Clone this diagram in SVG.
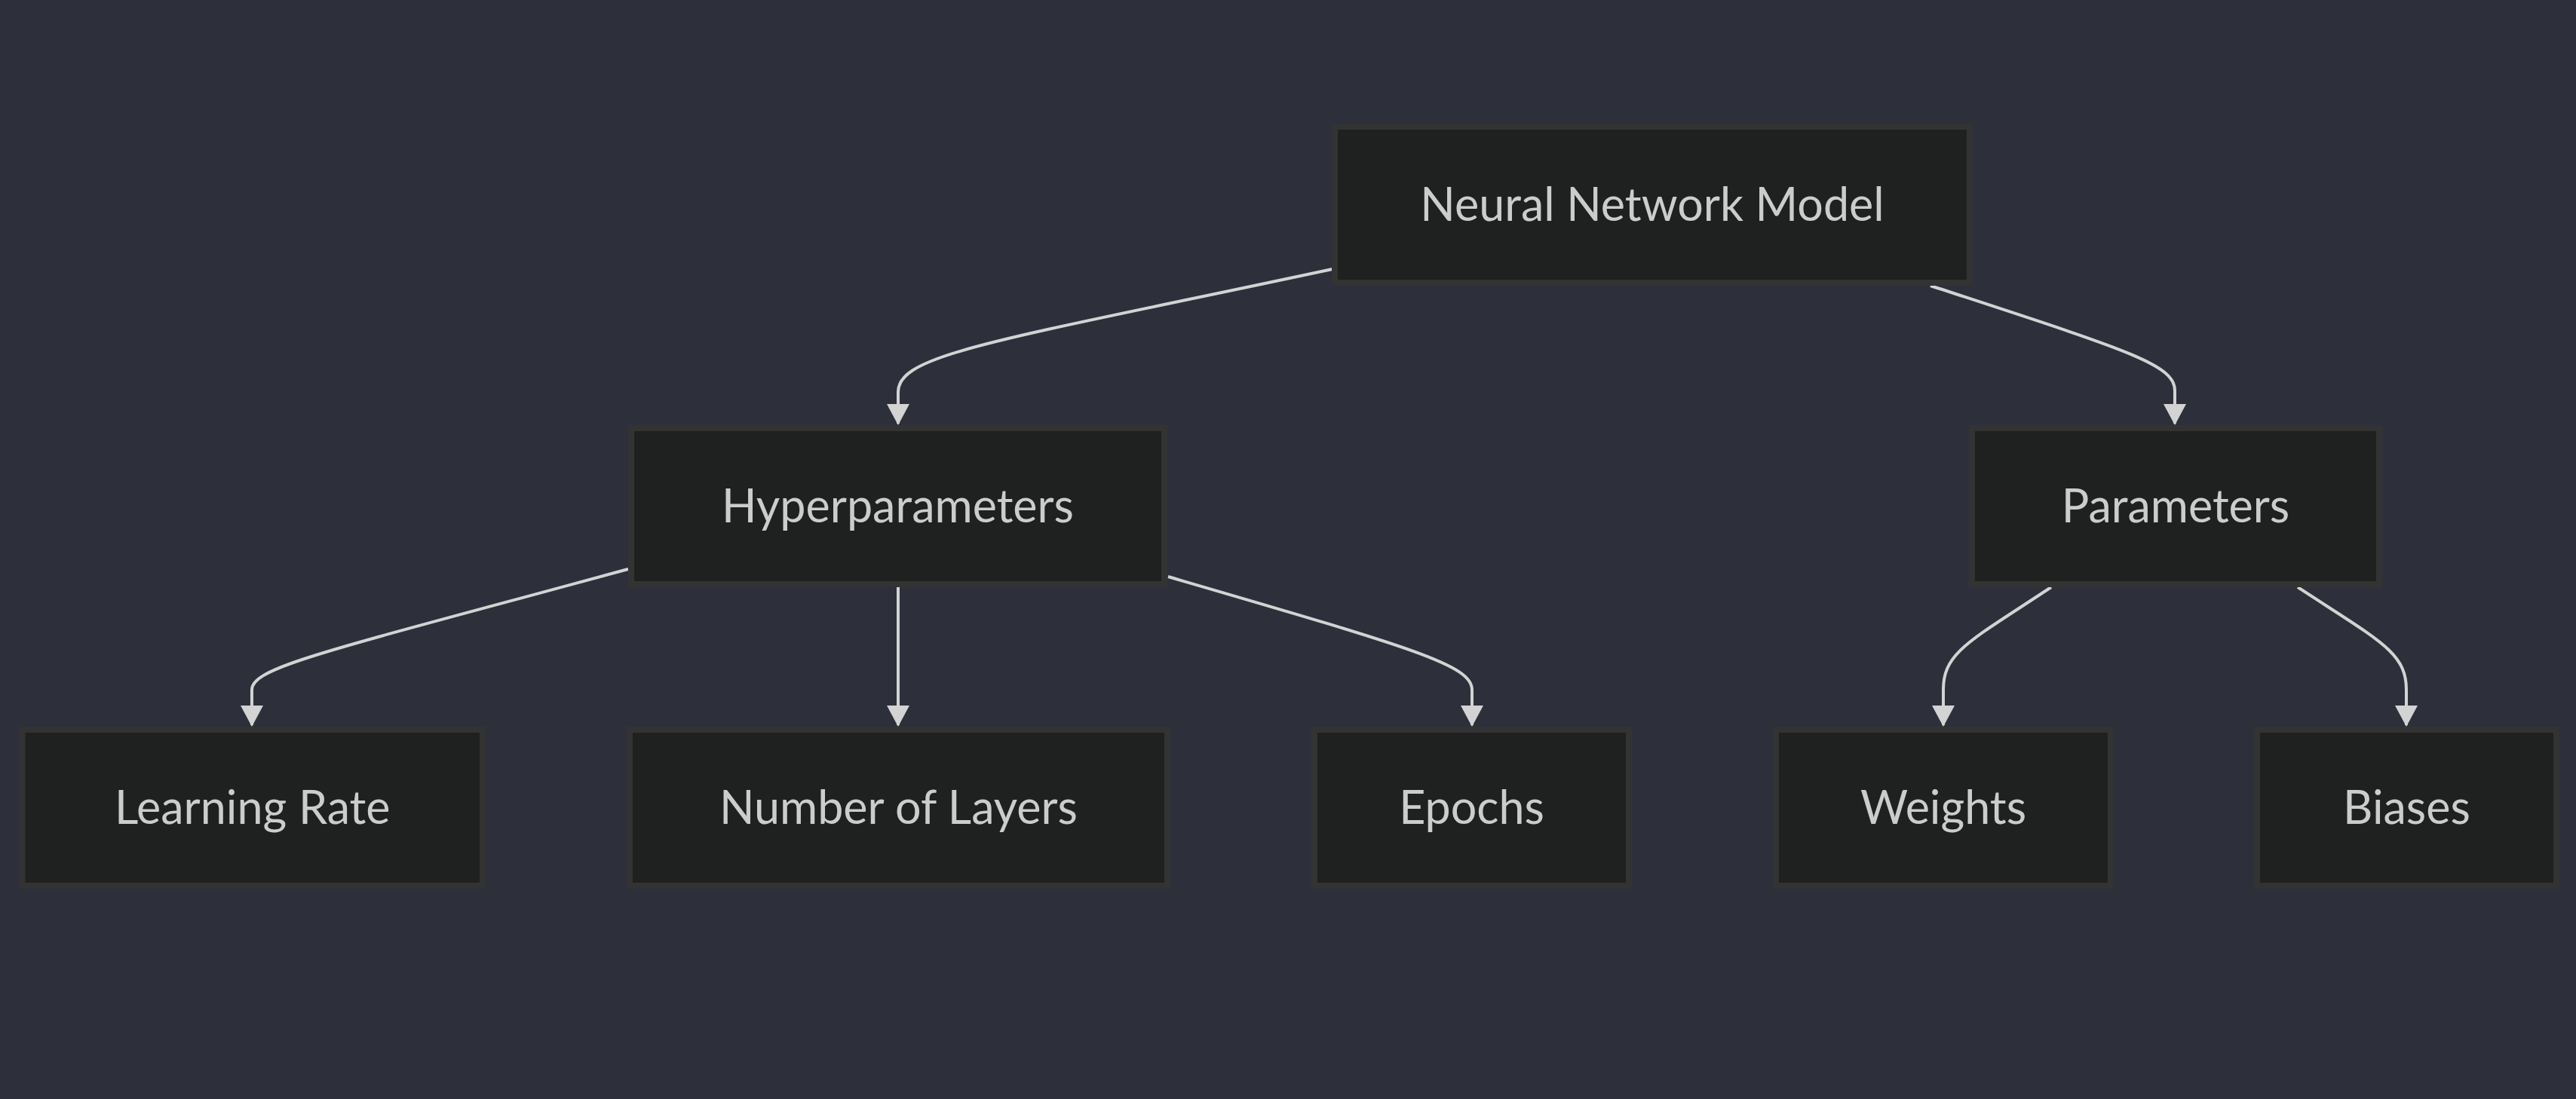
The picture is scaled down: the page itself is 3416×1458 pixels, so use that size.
<svg xmlns="http://www.w3.org/2000/svg" width="3416" height="1458" viewBox="0 0 3416 1458">
<defs>
<style>
.node rect{fill:#1f2020;stroke:#333333;stroke-width:8}
.node text{font-family:"Lato","Liberation Sans",sans-serif;font-size:61px;fill:#cccccc;text-anchor:middle}
.edge{fill:none;stroke:#d3d3d3;stroke-width:4;marker-end:url(#arrow)}
</style>
<marker id="arrow" markerUnits="userSpaceOnUse" viewBox="0 0 28 30" refX="26" refY="15" markerWidth="28" markerHeight="30" orient="auto">
<path d="M0,0 L28,15 L0,30 Z" fill="#d3d3d3"/>
</marker>
</defs>
<rect x="0" y="0" width="3416" height="1458" fill="#2d303b"/>
<g id="connectors">
<path class="edge" d="M1767,357 C1317,453 1191,470 1191,520 L1191,562"/>
<path class="edge" d="M2560,379 C2819,464 2884,483 2884,518 L2884,562"/>
<path class="edge" d="M833,755 C433,864 334,885 334,915 L334,962"/>
<path class="edge" d="M1191,779 L1191,962"/>
<path class="edge" d="M1549,765 C1871,859 1952,882 1952,915 L1952,962"/>
<path class="edge" d="M2720,779 C2613,850 2577,865 2577,915 L2577,962"/>
<path class="edge" d="M3047,779 C3155,850 3191,865 3191,915 L3191,962"/>
</g>
<g id="node-nnm" class="node"><rect x="1770" y="168" width="842" height="207"/><text x="2191" y="293">Neural Network Model</text></g>
<g id="node-hyper" class="node"><rect x="837" y="568" width="707" height="207"/><text x="1190.5" y="693">Hyperparameters</text></g>
<g id="node-params" class="node"><rect x="2615" y="568" width="540" height="207"/><text x="2885" y="693">Parameters</text></g>
<g id="node-lr" class="node"><rect x="29.5" y="968" width="610.5" height="207"/><text x="334.75" y="1093">Learning Rate</text></g>
<g id="node-layers" class="node"><rect x="835" y="968" width="713" height="207"/><text x="1191.5" y="1093">Number of Layers</text></g>
<g id="node-epochs" class="node"><rect x="1743" y="968" width="417" height="207"/><text x="1951.5" y="1093">Epochs</text></g>
<g id="node-weights" class="node"><rect x="2355" y="968" width="444" height="207"/><text x="2577" y="1093">Weights</text></g>
<g id="node-biases" class="node"><rect x="2993" y="968" width="397" height="207"/><text x="3191.5" y="1093">Biases</text></g>
</svg>
